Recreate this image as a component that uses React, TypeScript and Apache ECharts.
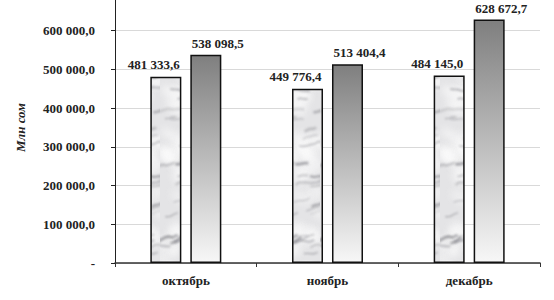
import React, { useEffect, useRef } from "react";
import * as echarts from "echarts";

const categories = ["октябрь", "ноябрь", "декабрь"];
const seriesA = [481333.6, 449776.4, 484145.0];
const seriesB = [538098.5, 513404.4, 628672.7];
const yTicks = [0, 100000, 200000, 300000, 400000, 500000, 600000];
const yName = "Млн сом";

const FONT = "'Liberation Serif', 'Times New Roman', serif";

function fmt(v: number): string {
  if (v === 0) return "-";
  const [i, d] = v.toFixed(1).split(".");
  return i.replace(/\B(?=(\d{3})+(?!\d))/g, " ") + "," + d;
}

function h(n: number): number {
  const s = Math.sin(n * 12.9898 + 78.233) * 43758.5453;
  return s - Math.floor(s);
}

function makeMarble(): HTMLCanvasElement {
  const W = 40;
  const H = 260;
  const c = document.createElement("canvas");
  c.width = W;
  c.height = H;
  const ctx = c.getContext("2d")!;
  ctx.fillStyle = "#e4e4e6";
  ctx.fillRect(0, 0, W, H);
  ctx.filter = "blur(4px)";
  for (let k = 0; k < 40; k++) {
    ctx.fillStyle = `rgba(252,252,252,${0.5 + h(k + 3) * 0.4})`;
    ctx.beginPath();
    ctx.ellipse(h(k) * W, h(k + 100) * H, 5 + h(k + 7) * 7, 3 + h(k + 9) * 5, 0.6, 0, Math.PI * 2);
    ctx.fill();
  }
  ctx.filter = "blur(1.3px)";
  for (let k = 0; k < 45; k++) {
    const x0 = h(k + 200) * W - 6;
    const y0 = h(k + 300) * H;
    ctx.strokeStyle = `rgba(105,105,112,${0.18 + h(k + 400) * 0.35})`;
    ctx.lineWidth = 0.8 + h(k + 500) * 2;
    ctx.beginPath();
    ctx.moveTo(x0, y0);
    const steps = 3 + Math.floor(h(k + 600) * 4);
    let x = x0;
    let y = y0;
    for (let s = 0; s < steps; s++) {
      x += 2.5 + h(k * 10 + s) * 3;
      y += -2.5 + h(k * 10 + s + 50) * 3.5;
      ctx.lineTo(x, y);
    }
    ctx.stroke();
  }
  ctx.filter = "none";
  return c;
}

export default function App() {
  const ref = useRef<HTMLDivElement>(null);
  useEffect(() => {
    if (!ref.current) return;
    const chart = echarts.init(ref.current, undefined, { renderer: "svg" });
    const marble = makeMarble();
    chart.setOption({
      animation: false,
      backgroundColor: "#ffffff",
      grid: {
        left: 115,
        right: 14,
        top: -8,
        bottom: 37,
        containLabel: false,
        outerBoundsMode: "none",
      },
      xAxis: {
        type: "category",
        data: categories,
        axisLine: { lineStyle: { color: "#333", width: 1.5 } },
        axisTick: { show: true, length: 4, lineStyle: { color: "#333" } },
        axisLabel: {
          margin: 11,
          color: "#222",
          fontFamily: FONT,
          fontWeight: "bold",
          fontSize: 13,
        },
      },
      yAxis: {
        type: "value",
        min: 0,
        max: 700000,
        interval: 100000,
        name: yName,
        nameLocation: "middle",
        nameGap: 88,
        nameRotate: 90,
        nameTextStyle: {
          color: "#222",
          fontFamily: FONT,
          fontWeight: "bold",
          fontStyle: "italic",
          fontSize: 13,
        },
        axisLine: { show: true, lineStyle: { color: "#222", width: 1 } },
        axisTick: { show: true, length: 4, lineStyle: { color: "#222" } },
        splitLine: { lineStyle: { color: "#d9d9d9", width: 1 } },
        axisLabel: {
          margin: 20,
          color: "#222",
          fontFamily: FONT,
          fontWeight: "bold",
          fontSize: 13,
          formatter: (v: number) => (yTicks.includes(v) ? fmt(v) : ""),
        },
      },
      series: [
        {
          type: "bar",
          data: seriesA,
          barWidth: 31,
          barGap: "29%",
          itemStyle: {
            color: { image: marble, repeat: "repeat" },
            borderColor: "#111",
            borderWidth: 1.5,
          },
          label: {
            show: true,
            position: "top",
            distance: 6,
            offset: [-12, 0],
            color: "#222",
            fontFamily: FONT,
            fontWeight: "bold",
            fontSize: 13,
            formatter: (p: any) => fmt(p.value),
          },
        },
        {
          type: "bar",
          data: seriesB,
          barWidth: 31,
          itemStyle: {
            color: new echarts.graphic.LinearGradient(0, 0, 0, 1, [
              { offset: 0, color: "#7f7f7f" },
              { offset: 1, color: "#f7f7f7" },
            ]),
            borderColor: "#111",
            borderWidth: 1.5,
          },
          label: {
            show: true,
            position: "top",
            distance: 5,
            offset: [12, 0],
            color: "#222",
            fontFamily: FONT,
            fontWeight: "bold",
            fontSize: 13,
            formatter: (p: any) => fmt(p.value),
          },
        },
      ],
    });
    return () => chart.dispose();
  }, []);
  return (
    <div
      ref={ref}
      style={{ position: "fixed", left: 0, top: 0, width: 554, height: 300 }}
    />
  );
}
